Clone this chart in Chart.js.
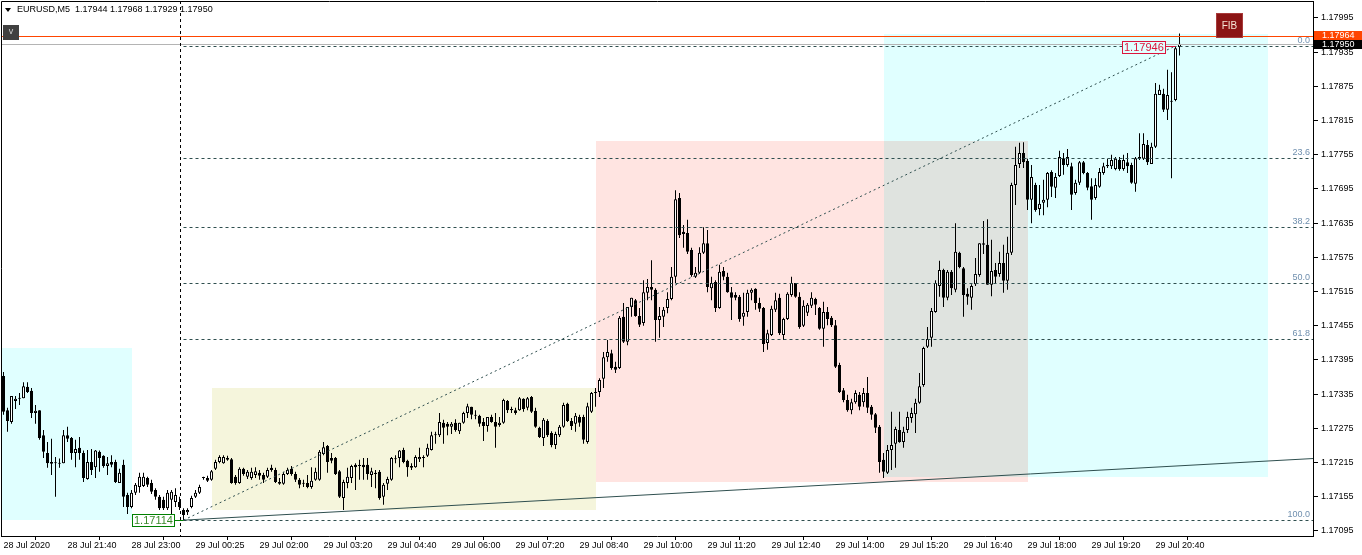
<!DOCTYPE html>
<html>
<head>
<meta charset="utf-8">
<script src="https://cdn.jsdelivr.net/npm/chart.js@4.4.1/dist/chart.umd.min.js"></script>
<style>
  html, body { margin: 0; padding: 0; background: #fff; overflow: hidden; }
  canvas { display: block; }
</style>
</head>
<body>
<canvas id="chart" width="1362" height="555"></canvas>
<script>
// —————— DATA (EURUSD M5, one value per bar) ——————
const symbol = 'EURUSD,M5';

const opens = [
1.17367,1.17307,1.17286,1.17323,1.17327,1.17328,1.17348,1.17341,1.17302,1.17307,
1.17263,1.17232,1.17216,1.17214,1.17213,1.17214,1.17263,1.17258,1.17232,1.17241,
1.17232,1.17186,1.17216,1.17207,1.17234,1.17227,1.17209,1.17216,1.17216,1.17179,
1.17211,1.17158,1.17137,1.17162,1.17172,1.17174,1.17188,1.17179,1.17167,1.17155,
1.17150,1.17135,1.17150,1.17146,1.17146,1.17132,1.17128,1.17137,1.17155,1.17162,
1.17188,1.17188,1.17185,1.17204,1.17216,1.17214,1.17223,1.17221,1.17190,1.17179,
1.17204,1.17190,1.17188,1.17193,1.17197,1.17193,1.17190,1.17206,1.17202,1.17181,
1.17178,1.17195,1.17204,1.17195,1.17185,1.17179,1.17179,1.17172,1.17185,1.17185,
1.17230,1.17244,1.17223,1.17223,1.17200,1.17153,1.17179,1.17188,1.17211,1.17209,
1.17211,1.17211,1.17193,1.17197,1.17199,1.17155,1.17178,1.17185,1.17221,1.17223,
1.17237,1.17218,1.17209,1.17207,1.17221,1.17225,1.17227,1.17237,1.17263,1.17263,
1.17285,1.17283,1.17278,1.17285,1.17270,1.17285,1.17302,1.17313,1.17299,1.17297,
1.17286,1.17279,1.17295,1.17286,1.17281,1.17285,1.17323,1.17309,1.17307,1.17307,
1.17327,1.17311,1.17330,1.17306,1.17276,1.17258,1.17288,1.17267,1.17246,1.17263,
1.17278,1.17318,1.17288,1.17283,1.17295,1.17295,1.17251,1.17304,1.17339,1.17339,
1.17362,1.17400,1.17407,1.17383,1.17381,1.17471,1.17427,1.17488,1.17500,1.17472,
1.17460,1.17513,1.17523,1.17518,1.17465,1.17471,1.17486,1.17502,1.17541,1.17679,
1.17620,1.17618,1.17588,1.17541,1.17548,1.17583,1.17600,1.17521,1.17532,1.17486,
1.17551,1.17541,1.17514,1.17509,1.17506,1.17471,1.17479,1.17513,1.17520,1.17495,
1.17486,1.17425,1.17439,1.17483,1.17504,1.17439,1.17467,1.17509,1.17530,1.17506,
1.17455,1.17478,1.17490,1.17502,1.17486,1.17450,1.17479,1.17469,1.17456,1.17386,
1.17342,1.17325,1.17307,1.17321,1.17334,1.17321,1.17337,1.17313,1.17300,1.17278,
1.17220,1.17197,1.17237,1.17248,1.17272,1.17251,1.17272,1.17293,1.17300,1.17320,
1.17351,1.17418,1.17434,1.17479,1.17525,1.17553,1.17504,1.17550,1.17518,1.17583,
1.17556,1.17511,1.17504,1.17528,1.17544,1.17597,1.17597,1.17527,1.17553,1.17546,
1.17565,1.17534,1.17583,1.17702,1.17739,1.17758,1.17744,1.17676,1.17702,1.17660,
1.17671,1.17676,1.17725,1.17697,1.17718,1.17749,1.17737,1.17735,1.17688,1.17706,
1.17742,1.17723,1.17700,1.17679,1.17699,1.17723,1.17737,1.17735,1.17730,1.17746,
1.17730,1.17742,1.17737,1.17704,1.17751,1.17748,1.17772,1.17739,1.17769,1.17860,
1.17862,1.17834,1.17848,1.17851,1.17944
];
const highs = [
1.17374,1.17311,1.17332,1.17332,1.17337,1.17356,1.17356,1.17346,1.17316,1.17307,
1.17272,1.17251,1.17257,1.17225,1.17222,1.17272,1.17278,1.17260,1.17255,1.17260,
1.17236,1.17237,1.17239,1.17237,1.17236,1.17228,1.17225,1.17228,1.17220,1.17204,
1.17220,1.17162,1.17167,1.17179,1.17197,1.17197,1.17190,1.17185,1.17170,1.17158,
1.17155,1.17167,1.17167,1.17170,1.17155,1.17135,1.17135,1.17157,1.17167,1.17176,
1.17190,1.17192,1.17202,1.17220,1.17228,1.17228,1.17227,1.17223,1.17193,1.17207,
1.17206,1.17202,1.17206,1.17207,1.17202,1.17197,1.17206,1.17211,1.17206,1.17188,
1.17199,1.17206,1.17209,1.17199,1.17188,1.17185,1.17193,1.17207,1.17206,1.17237,
1.17251,1.17246,1.17232,1.17225,1.17202,1.17185,1.17206,1.17211,1.17214,1.17220,
1.17223,1.17223,1.17206,1.17202,1.17202,1.17179,1.17190,1.17225,1.17228,1.17237,
1.17241,1.17220,1.17214,1.17228,1.17241,1.17228,1.17248,1.17269,1.17269,1.17302,
1.17290,1.17286,1.17286,1.17291,1.17285,1.17304,1.17318,1.17313,1.17307,1.17299,
1.17293,1.17295,1.17299,1.17302,1.17295,1.17327,1.17325,1.17313,1.17311,1.17330,
1.17328,1.17330,1.17332,1.17311,1.17278,1.17293,1.17291,1.17270,1.17269,1.17281,
1.17320,1.17320,1.17293,1.17302,1.17299,1.17299,1.17320,1.17339,1.17346,1.17363,
1.17409,1.17430,1.17413,1.17392,1.17472,1.17495,1.17488,1.17504,1.17502,1.17486,
1.17535,1.17537,1.17570,1.17521,1.17488,1.17488,1.17514,1.17558,1.17693,1.17688,
1.17632,1.17641,1.17592,1.17558,1.17593,1.17628,1.17623,1.17541,1.17535,1.17562,
1.17558,1.17548,1.17523,1.17514,1.17509,1.17513,1.17518,1.17521,1.17521,1.17504,
1.17488,1.17448,1.17490,1.17513,1.17511,1.17469,1.17514,1.17541,1.17530,1.17514,
1.17500,1.17495,1.17514,1.17504,1.17488,1.17497,1.17488,1.17472,1.17465,1.17390,
1.17346,1.17334,1.17327,1.17342,1.17339,1.17346,1.17365,1.17316,1.17302,1.17281,
1.17232,1.17246,1.17304,1.17278,1.17304,1.17278,1.17304,1.17311,1.17327,1.17372,
1.17418,1.17453,1.17486,1.17535,1.17569,1.17555,1.17553,1.17553,1.17635,1.17585,
1.17558,1.17521,1.17528,1.17574,1.17600,1.17639,1.17642,1.17606,1.17565,1.17585,
1.17597,1.17611,1.17706,1.17769,1.17776,1.17777,1.17748,1.17737,1.17706,1.17702,
1.17711,1.17725,1.17728,1.17723,1.17762,1.17758,1.17765,1.17741,1.17711,1.17744,
1.17744,1.17725,1.17714,1.17714,1.17732,1.17741,1.17748,1.17755,1.17751,1.17751,
1.17755,1.17758,1.17741,1.17751,1.17793,1.17793,1.17781,1.17776,1.17881,1.17878,
1.17871,1.17904,1.17900,1.17946,1.17968
];
const lows = [
1.17299,1.17269,1.17283,1.17309,1.17316,1.17328,1.17337,1.17293,1.17283,1.17255,
1.17223,1.17206,1.17193,1.17155,1.17206,1.17214,1.17251,1.17220,1.17207,1.17220,
1.17181,1.17185,1.17193,1.17188,1.17199,1.17206,1.17193,1.17207,1.17179,1.17179,
1.17137,1.17125,1.17135,1.17158,1.17162,1.17172,1.17172,1.17160,1.17150,1.17132,
1.17132,1.17132,1.17123,1.17137,1.17132,1.17114,1.17123,1.17135,1.17153,1.17160,
1.17185,1.17181,1.17183,1.17202,1.17214,1.17213,1.17218,1.17178,1.17176,1.17178,
1.17192,1.17186,1.17185,1.17188,1.17185,1.17179,1.17188,1.17199,1.17179,1.17176,
1.17176,1.17193,1.17192,1.17181,1.17170,1.17172,1.17170,1.17169,1.17183,1.17183,
1.17228,1.17197,1.17214,1.17193,1.17153,1.17132,1.17170,1.17179,1.17167,1.17185,
1.17185,1.17185,1.17172,1.17170,1.17150,1.17141,1.17167,1.17183,1.17214,1.17207,
1.17214,1.17190,1.17202,1.17206,1.17216,1.17207,1.17225,1.17236,1.17248,1.17260,
1.17248,1.17263,1.17265,1.17269,1.17265,1.17283,1.17293,1.17291,1.17291,1.17278,
1.17253,1.17269,1.17285,1.17241,1.17278,1.17283,1.17302,1.17302,1.17299,1.17306,
1.17304,1.17307,1.17302,1.17276,1.17258,1.17244,1.17260,1.17242,1.17239,1.17260,
1.17276,1.17286,1.17272,1.17269,1.17278,1.17248,1.17248,1.17302,1.17313,1.17330,
1.17346,1.17392,1.17378,1.17372,1.17379,1.17425,1.17421,1.17471,1.17471,1.17453,
1.17455,1.17500,1.17500,1.17427,1.17434,1.17453,1.17477,1.17500,1.17530,1.17609,
1.17592,1.17581,1.17541,1.17539,1.17546,1.17581,1.17514,1.17500,1.17479,1.17485,
1.17535,1.17513,1.17465,1.17500,1.17462,1.17455,1.17471,1.17500,1.17483,1.17479,
1.17409,1.17413,1.17437,1.17479,1.17439,1.17430,1.17465,1.17506,1.17504,1.17450,
1.17453,1.17472,1.17486,1.17474,1.17448,1.17418,1.17456,1.17453,1.17381,1.17337,
1.17321,1.17304,1.17300,1.17318,1.17307,1.17313,1.17302,1.17290,1.17267,1.17197,
1.17188,1.17195,1.17202,1.17206,1.17250,1.17241,1.17267,1.17285,1.17267,1.17318,
1.17348,1.17416,1.17418,1.17478,1.17506,1.17488,1.17500,1.17509,1.17514,1.17556,
1.17471,1.17492,1.17483,1.17525,1.17541,1.17581,1.17527,1.17507,1.17530,1.17541,
1.17513,1.17518,1.17579,1.17667,1.17732,1.17732,1.17658,1.17635,1.17655,1.17649,
1.17649,1.17663,1.17681,1.17679,1.17716,1.17720,1.17734,1.17658,1.17685,1.17702,
1.17721,1.17693,1.17641,1.17676,1.17697,1.17720,1.17732,1.17730,1.17728,1.17727,
1.17727,1.17723,1.17704,1.17690,1.17746,1.17746,1.17737,1.17739,1.17767,1.17860,
1.17830,1.17816,1.17714,1.17849,1.17929
];
const closes = [
1.17304,1.17288,1.17332,1.17327,1.17328,1.17349,1.17339,1.17302,1.17306,1.17258,
1.17234,1.17214,1.17213,1.17214,1.17214,1.17263,1.17257,1.17232,1.17239,1.17232,
1.17188,1.17216,1.17202,1.17236,1.17223,1.17209,1.17214,1.17211,1.17181,1.17197,
1.17155,1.17137,1.17162,1.17176,1.17190,1.17190,1.17176,1.17164,1.17155,1.17135,
1.17135,1.17162,1.17164,1.17158,1.17137,1.17123,1.17132,1.17153,1.17162,1.17172,
1.17188,1.17183,1.17200,1.17216,1.17225,1.17225,1.17220,1.17179,1.17179,1.17204,
1.17195,1.17199,1.17199,1.17200,1.17192,1.17185,1.17202,1.17202,1.17181,1.17178,
1.17195,1.17202,1.17195,1.17185,1.17176,1.17178,1.17172,1.17183,1.17199,1.17234,
1.17242,1.17216,1.17218,1.17195,1.17155,1.17181,1.17190,1.17209,1.17207,1.17209,
1.17207,1.17195,1.17200,1.17195,1.17153,1.17176,1.17186,1.17223,1.17221,1.17236,
1.17216,1.17207,1.17206,1.17225,1.17225,1.17223,1.17241,1.17263,1.17263,1.17286,
1.17276,1.17278,1.17283,1.17272,1.17285,1.17302,1.17314,1.17299,1.17297,1.17283,
1.17279,1.17295,1.17286,1.17278,1.17285,1.17325,1.17307,1.17307,1.17302,1.17328,
1.17309,1.17328,1.17304,1.17278,1.17260,1.17290,1.17263,1.17246,1.17265,1.17278,
1.17316,1.17288,1.17279,1.17297,1.17285,1.17255,1.17314,1.17337,1.17337,1.17360,
1.17400,1.17409,1.17381,1.17378,1.17469,1.17427,1.17488,1.17504,1.17472,1.17457,
1.17514,1.17523,1.17518,1.17465,1.17472,1.17483,1.17502,1.17541,1.17677,1.17614,
1.17616,1.17585,1.17544,1.17548,1.17583,1.17600,1.17523,1.17530,1.17486,1.17550,
1.17541,1.17514,1.17504,1.17504,1.17467,1.17478,1.17513,1.17518,1.17495,1.17485,
1.17423,1.17442,1.17485,1.17500,1.17442,1.17467,1.17511,1.17530,1.17506,1.17453,
1.17490,1.17492,1.17504,1.17492,1.17450,1.17479,1.17467,1.17456,1.17383,1.17339,
1.17325,1.17307,1.17321,1.17337,1.17313,1.17337,1.17311,1.17299,1.17276,1.17216,
1.17199,1.17237,1.17246,1.17274,1.17251,1.17269,1.17295,1.17302,1.17320,1.17349,
1.17416,1.17432,1.17481,1.17530,1.17553,1.17504,1.17550,1.17521,1.17585,1.17558,
1.17509,1.17506,1.17525,1.17546,1.17600,1.17600,1.17527,1.17551,1.17541,1.17565,
1.17534,1.17583,1.17702,1.17737,1.17758,1.17742,1.17676,1.17716,1.17658,1.17669,
1.17676,1.17723,1.17699,1.17716,1.17751,1.17737,1.17751,1.17685,1.17706,1.17742,
1.17723,1.17697,1.17676,1.17702,1.17725,1.17735,1.17735,1.17746,1.17748,1.17730,
1.17746,1.17735,1.17706,1.17749,1.17748,1.17774,1.17742,1.17769,1.17862,1.17869,
1.17834,1.17860,1.17849,1.17942,1.17950
];

// time axis: bar index of each label and its text
const xTickBars = [0,16,32,48,64,80,96,112,128,144,160,176,192,208,224,240,256,272,288];
const xTickLabels = ['28 Jul 2020','28 Jul 21:40','28 Jul 23:00','29 Jul 00:25','29 Jul 02:00',
  '29 Jul 03:20','29 Jul 04:40','29 Jul 06:00','29 Jul 07:20','29 Jul 08:40','29 Jul 10:00',
  '29 Jul 11:20','29 Jul 12:40','29 Jul 14:00','29 Jul 15:20','29 Jul 16:40','29 Jul 18:00',
  '29 Jul 19:20','29 Jul 20:40'];

// price axis
const yTicks = [1.17995,1.17935,1.17875,1.17815,1.17755,1.17695,1.17635,1.17575,
  1.17515,1.17455,1.17395,1.17335,1.17275,1.17215,1.17155,1.17095];

// fibonacci retracement (bar, price) and its levels
const fibLowBar = 45, fibLow = 1.17114;
const fibHighBar = 293, fibHigh = 1.17946;
const fibLevels = [0, 23.6, 38.2, 50, 61.8, 100];

// trend line through two anchors
const trendBars = [45, 220];
const trendPrices = [1.17114, 1.17181];

const askPrice = 1.17964;
const bidPrice = closes[closes.length - 1];
const vlineBar = 44;

// rectangles: [fromBar, toBar, topPrice, bottomPrice]
const boxBars   = [[-1, 32], [52, 148], [148, 256], [220, 316]];
const boxPrices = [[1.17416, 1.17114], [1.17346, 1.17132], [1.17779, 1.17181], [1.17967, 1.17190]];
const boxColors = ['#e0ffff', '#f5f5dc', '#ffe4e1', '#e0ffff'];
const overlapColor = '#dfe3df';

// —————— HELPERS ——————
const FAMILY = "'Liberation Sans', Arial, sans-serif";
const font = (px) => px + 'px ' + FAMILY;
const crisp = (v) => Math.round(v) + 0.5;

function hLine(ctx, x0, x1, y, color, dash) {
  ctx.save();
  ctx.strokeStyle = color; ctx.lineWidth = 1; ctx.setLineDash(dash || []);
  ctx.beginPath(); ctx.moveTo(x0, crisp(y)); ctx.lineTo(x1, crisp(y)); ctx.stroke();
  ctx.restore();
}

function priceTag(ctx, text, xRight, yMid, border, textColor, fill) {
  ctx.font = font(11);
  const w = Math.ceil(ctx.measureText(text).width) + 4;
  const x0 = Math.round(xRight - w), y0 = Math.round(yMid) - 6;
  ctx.fillStyle = fill; ctx.fillRect(x0, y0, w, 12);
  ctx.strokeStyle = border; ctx.lineWidth = 1; ctx.strokeRect(x0 + 0.5, y0 + 0.5, w - 1, 12);
  ctx.fillStyle = textColor; ctx.textBaseline = 'middle'; ctx.textAlign = 'left';
  ctx.fillText(text, x0 + 2, y0 + 7);
  return x0 + w;
}

// no label overflow padding: the plot must fill the window like MT4
function fixedBox(size, key) {
  return s => {
    s[key] = size;
    s.paddingTop = 0; s.paddingBottom = 0; s.paddingLeft = 0; s.paddingRight = 0;
  };
}

// —————— MT4 OBJECTS PLUGIN ——————
const mt4Objects = {
  id: 'mt4Objects',
  beforeDatasetsDraw(chart) {
    const { ctx, chartArea: a, scales: { x, y } } = chart;
    ctx.save();
    ctx.beginPath(); ctx.rect(a.left, a.top, a.right - a.left, a.bottom - a.top); ctx.clip();
    const rects = boxBars.map((b, i) => ({
      x0: Math.round(x.getPixelForValue(b[0])), x1: Math.round(x.getPixelForValue(b[1])),
      y0: Math.round(y.getPixelForValue(boxPrices[i][0])), y1: Math.round(y.getPixelForValue(boxPrices[i][1]))
    }));
    rects.forEach((r, i) => {
      ctx.fillStyle = boxColors[i];
      ctx.fillRect(r.x0, r.y0, r.x1 - r.x0, r.y1 - r.y0);
    });
    // pink and cyan boxes overlap -> grey
    const p = rects[2], c = rects[3];
    const ox0 = Math.max(p.x0, c.x0), ox1 = Math.min(p.x1, c.x1);
    const oy0 = Math.max(p.y0, c.y0), oy1 = Math.min(p.y1, c.y1);
    ctx.fillStyle = overlapColor;
    ctx.fillRect(ox0, oy0, ox1 - ox0, oy1 - oy0);
    ctx.restore();
  },
  afterDatasetsDraw(chart) {
    const { ctx, chartArea: a, scales: { x, y } } = chart;
    ctx.save();
    ctx.beginPath(); ctx.rect(a.left, a.top, a.right - a.left, a.bottom - a.top); ctx.clip();

    // ask / bid lines
    hLine(ctx, a.left, a.right, y.getPixelForValue(askPrice), '#ff4500');
    hLine(ctx, a.left, a.right, y.getPixelForValue(bidPrice), '#b4b4b4');

    // vertical dashed line
    const vx = crisp(x.getPixelForValue(vlineBar));
    ctx.strokeStyle = '#000'; ctx.setLineDash([3, 3]);
    ctx.beginPath(); ctx.moveTo(vx, a.top); ctx.lineTo(vx, a.bottom); ctx.stroke();

    // fib levels
    const fx = x.getPixelForValue(fibLowBar);
    fibLevels.forEach(l => {
      const py = y.getPixelForValue(fibHigh - l / 100 * (fibHigh - fibLow));
      hLine(ctx, fx, a.right, py, '#2f4f4f', [3, 3]);
      ctx.font = font(9); ctx.fillStyle = '#6f8fae';
      ctx.textAlign = 'right'; ctx.textBaseline = 'bottom';
      ctx.fillText(l.toFixed(1), a.right - 3, Math.round(py) - 1);
    });

    // fib diagonal
    ctx.strokeStyle = '#2f4f4f'; ctx.setLineDash([2, 3]);
    ctx.beginPath();
    ctx.moveTo(fx, y.getPixelForValue(fibLow));
    ctx.lineTo(x.getPixelForValue(fibHighBar), y.getPixelForValue(fibHigh));
    ctx.stroke();

    // trend line (ray to the right)
    const tx0 = x.getPixelForValue(trendBars[0]), ty0 = y.getPixelForValue(trendPrices[0]);
    const tx1 = x.getPixelForValue(trendBars[1]), ty1 = y.getPixelForValue(trendPrices[1]);
    const slope = (ty1 - ty0) / (tx1 - tx0);
    ctx.setLineDash([]); ctx.strokeStyle = '#2f4f4f';
    ctx.beginPath(); ctx.moveTo(tx0, ty0); ctx.lineTo(a.right, ty0 + slope * (a.right - tx0)); ctx.stroke();
    ctx.restore();

    // price tags of the fib anchors
    ctx.save();
    const gy = y.getPixelForValue(fibLow);
    const gEnd = priceTag(ctx, fibLow.toFixed(5), fx - 9, gy, '#008000', '#3a8a2a', '#ffffff');
    hLine(ctx, gEnd, fx, gy, '#008000');
    const ry = y.getPixelForValue(fibHigh);
    const rx = x.getPixelForValue(fibHighBar);
    const rEnd = priceTag(ctx, fibHigh.toFixed(5), rx - 10, ry + 1, '#dc143c', '#dc143c', '#e0ffff');
    hLine(ctx, rEnd, rx, ry, '#dc143c');
    ctx.restore();
  },
  afterDraw(chart) {
    const { ctx, chartArea: a, scales: { y } } = chart;
    ctx.save();
    // frame
    ctx.strokeStyle = '#000'; ctx.lineWidth = 1;
    ctx.beginPath();
    ctx.moveTo(crisp(a.left), a.bottom); ctx.lineTo(crisp(a.left), crisp(a.top)); ctx.lineTo(a.right, crisp(a.top));
    ctx.stroke();

    // title
    const last = closes.length - 1;
    ctx.fillStyle = '#000';
    ctx.beginPath(); ctx.moveTo(5, 8); ctx.lineTo(11, 8); ctx.lineTo(8, 12); ctx.closePath(); ctx.fill();
    ctx.font = font(9); ctx.textAlign = 'left'; ctx.textBaseline = 'middle';
    ctx.fillText(symbol + '  ' + [opens[last], highs[last], lows[last], closes[last]].map(v => v.toFixed(5)).join(' '), 17, 10);

    // small 'v' button
    ctx.fillStyle = '#404040'; ctx.fillRect(3, 25, 16, 15);
    ctx.fillStyle = '#d0d0d0'; ctx.textAlign = 'center'; ctx.font = font(9);
    ctx.fillText('v', 11, 32);

    // FIB button
    ctx.fillStyle = '#8b1414'; ctx.fillRect(1216, 13, 27, 25);
    ctx.strokeStyle = '#a83a3a'; ctx.strokeRect(1216.5, 13.5, 26, 24);
    ctx.fillStyle = '#f4e4d4'; ctx.font = font(10);
    ctx.fillText('FIB', 1229.5, 26);

    // ask / bid tags on the price axis
    const ay = Math.round(y.getPixelForValue(askPrice));
    const by = Math.round(y.getPixelForValue(bidPrice));
    ctx.textAlign = 'left'; ctx.font = font(9);
    ctx.fillStyle = '#ff4500'; ctx.fillRect(a.right + 1, ay - 5, 48, 9);
    ctx.fillStyle = '#fff'; ctx.fillText(askPrice.toFixed(5), a.right + 9, ay);
    ctx.fillStyle = '#000'; ctx.fillRect(a.right + 1, by - 4, 48, 9);
    ctx.fillStyle = '#fff'; ctx.fillText(bidPrice.toFixed(5), a.right + 9, by + 1);
    ctx.restore();
  }
};

// —————— CHART ——————
const bars = closes.map((c, i) => i);

new Chart(document.getElementById('chart'), {
  type: 'bar',
  data: {
    datasets: [
      {
        label: 'body', order: 0, grouped: false,
        data: bars.map(i => ({ x: i, y: [opens[i], closes[i]] })),
        backgroundColor: bars.map(i => closes[i] >= opens[i] ? '#ffffff' : '#000000'),
        borderColor: '#000', borderWidth: 1, borderSkipped: false,
        barThickness: 3, minBarLength: 1, inflateAmount: 0
      },
      {
        label: 'wick', order: 1, grouped: false,
        data: bars.map(i => ({ x: i, y: [lows[i], highs[i]] })),
        backgroundColor: '#000', borderWidth: 0,
        barThickness: 1, inflateAmount: 0
      }
    ]
  },
  options: {
    responsive: false,
    devicePixelRatio: 1,
    animation: false,
    layout: { padding: { left: 1, top: 1, right: 0, bottom: 0 } },
    plugins: { legend: { display: false }, tooltip: { enabled: false } },
    scales: {
      x: {
        type: 'linear', min: -0.625, max: 327.375, offset: false,
        grid: { drawOnChartArea: false, drawTicks: true, tickLength: 4, color: '#000' },
        border: { display: true, color: '#000' },
        afterBuildTicks: s => { s.ticks = xTickBars.map(v => ({ value: v })); },
        afterFit: fixedBox(19, 'height'),
        ticks: {
          autoSkip: false, maxRotation: 0, minRotation: 0, align: 'start', padding: 0,
          color: '#000', font: { family: FAMILY, size: 9 },
          callback: (v, i) => xTickLabels[i]
        }
      },
      y: {
        position: 'right', min: 1.170862, max: 1.180248,
        grid: { drawOnChartArea: false, drawTicks: true, tickLength: 5, color: '#000' },
        border: { display: true, color: '#000' },
        afterBuildTicks: s => { s.ticks = yTicks.map(v => ({ value: v })); },
        afterFit: fixedBox(49, 'width'),
        ticks: {
          autoSkip: false, padding: 3, color: '#000', font: { family: FAMILY, size: 9 },
          callback: v => v.toFixed(5)
        }
      }
    }
  },
  plugins: [mt4Objects]
});
</script>
</body>
</html>
